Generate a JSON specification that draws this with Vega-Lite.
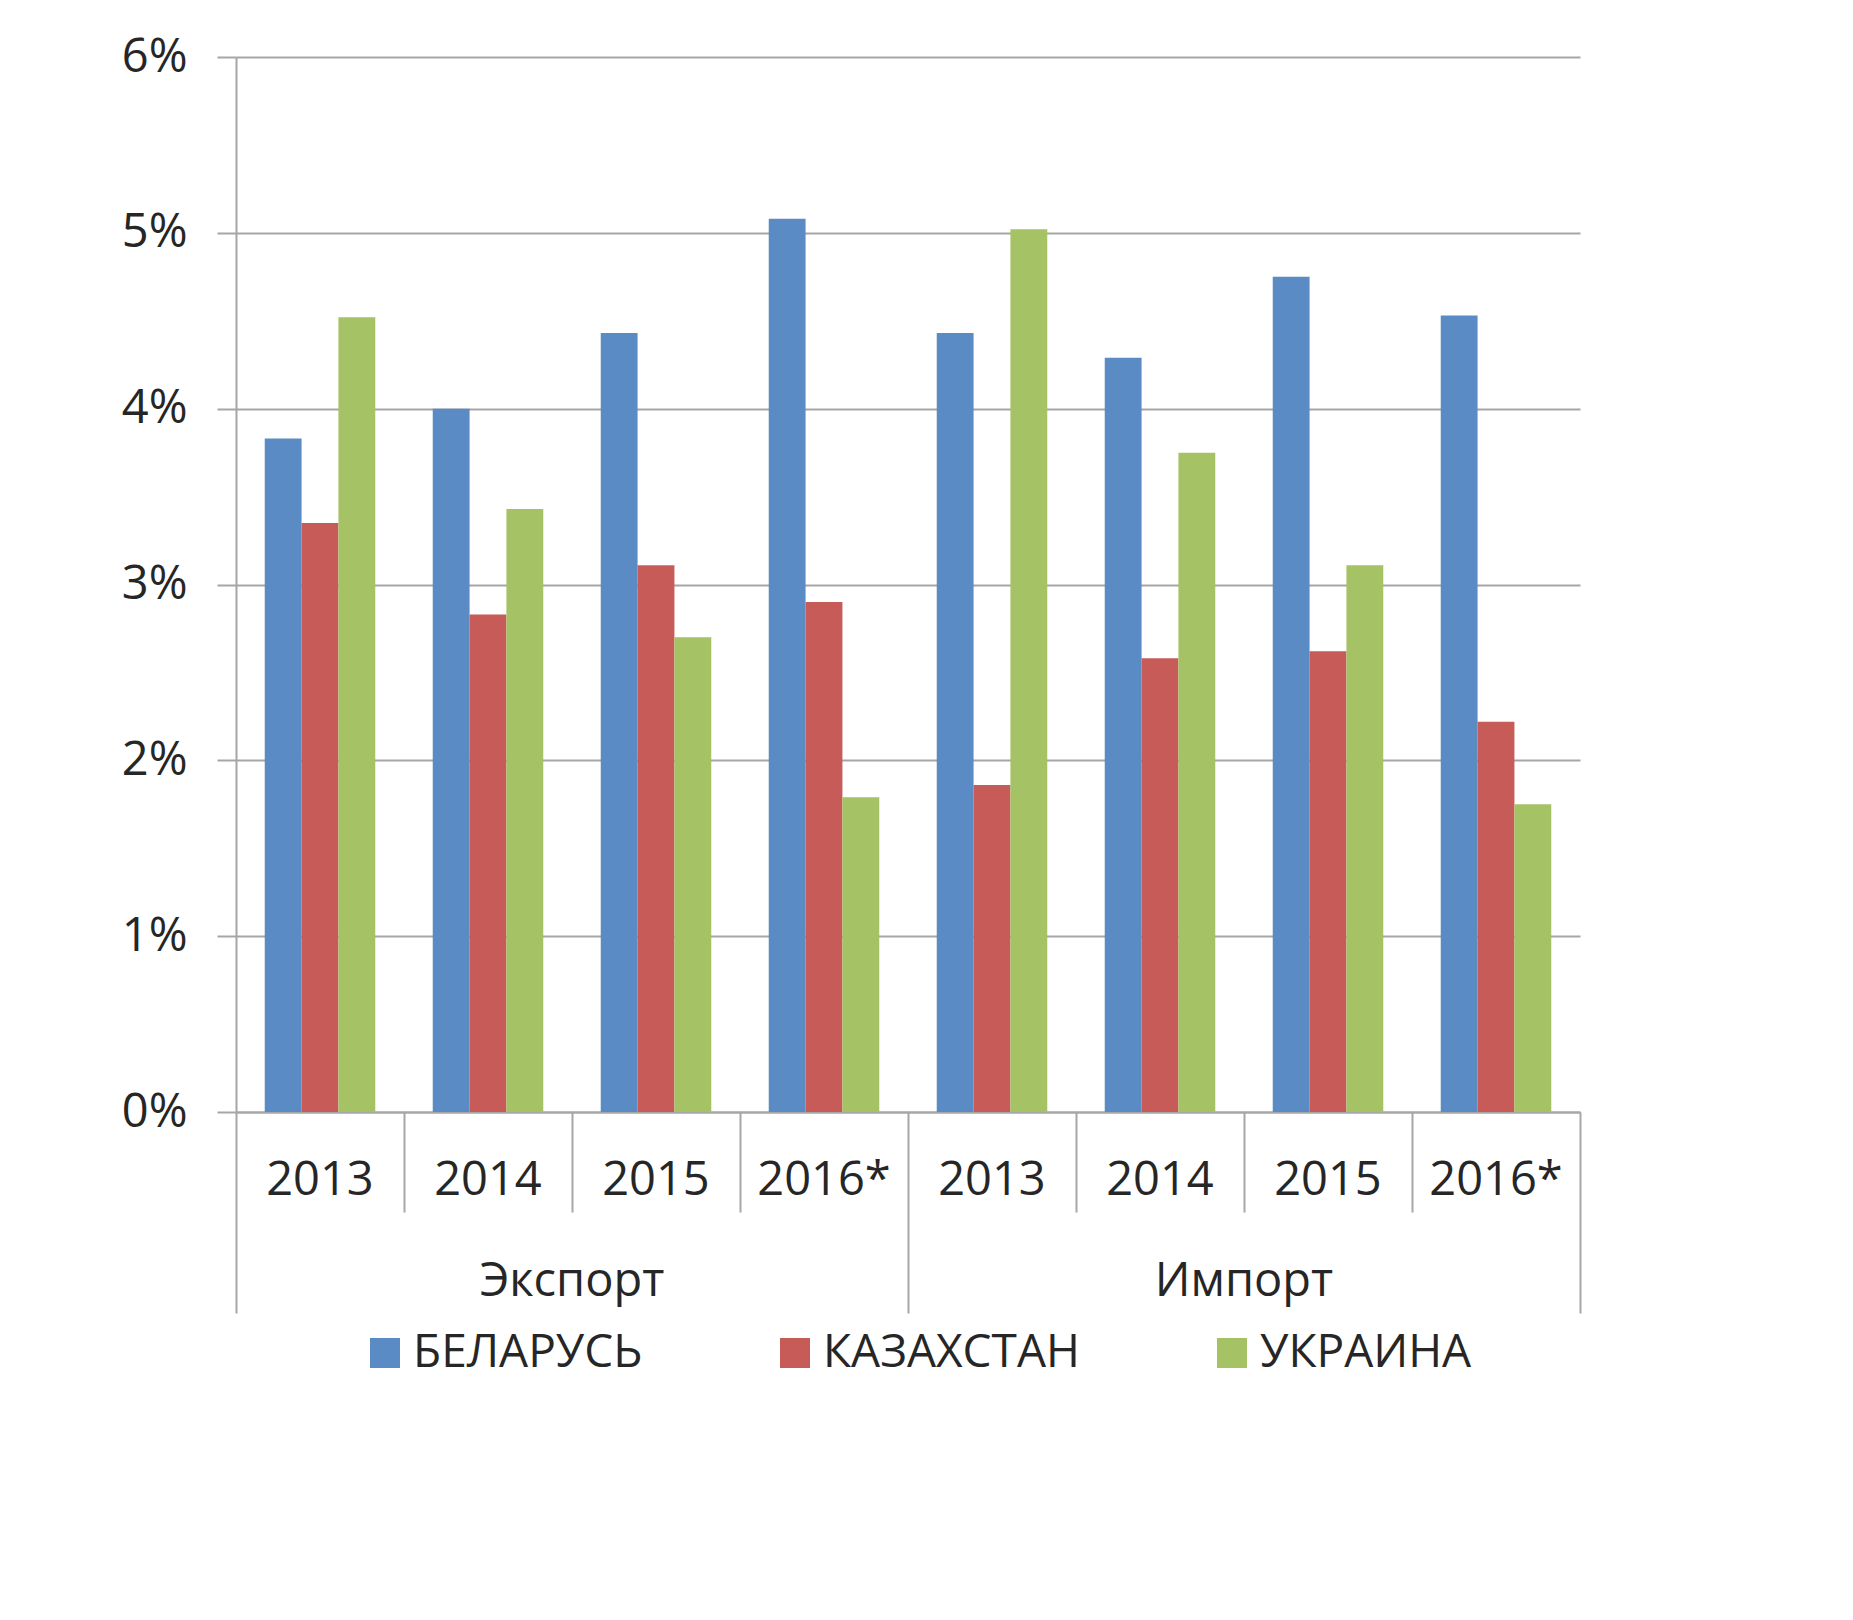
{
  "$schema": "https://vega.github.io/schema/vega-lite/v6.json",
  "width": 1344,
  "height": 1055,
  "autosize": {"type": "none"},
  "padding": {"left": 236, "top": 57, "right": 273, "bottom": 508},
  "background": "white",
  "config": {
    "view": {"stroke": null},
    "font": "Open Sans",
    "axis": {
      "labelFont": "Open Sans",
      "labelFontSize": 47,
      "labelColor": "#262626",
      "labelLimit": 0,
      "domainColor": "#a6a6a6",
      "domainWidth": 2,
      "tickColor": "#a6a6a6",
      "tickWidth": 2,
      "gridColor": "#a6a6a6",
      "gridWidth": 2
    },
    "legend": {"labelLimit": 0}
  },
  "data": {
    "values": [
      {"cat": "Экспорт|2013", "flow": "Экспорт", "year": "2013", "country": "БЕЛАРУСЬ", "value": 3.83},
      {"cat": "Экспорт|2013", "flow": "Экспорт", "year": "2013", "country": "КАЗАХСТАН", "value": 3.35},
      {"cat": "Экспорт|2013", "flow": "Экспорт", "year": "2013", "country": "УКРАИНА", "value": 4.52},
      {"cat": "Экспорт|2014", "flow": "Экспорт", "year": "2014", "country": "БЕЛАРУСЬ", "value": 4.0},
      {"cat": "Экспорт|2014", "flow": "Экспорт", "year": "2014", "country": "КАЗАХСТАН", "value": 2.83},
      {"cat": "Экспорт|2014", "flow": "Экспорт", "year": "2014", "country": "УКРАИНА", "value": 3.43},
      {"cat": "Экспорт|2015", "flow": "Экспорт", "year": "2015", "country": "БЕЛАРУСЬ", "value": 4.43},
      {"cat": "Экспорт|2015", "flow": "Экспорт", "year": "2015", "country": "КАЗАХСТАН", "value": 3.11},
      {"cat": "Экспорт|2015", "flow": "Экспорт", "year": "2015", "country": "УКРАИНА", "value": 2.7},
      {"cat": "Экспорт|2016*", "flow": "Экспорт", "year": "2016*", "country": "БЕЛАРУСЬ", "value": 5.08},
      {"cat": "Экспорт|2016*", "flow": "Экспорт", "year": "2016*", "country": "КАЗАХСТАН", "value": 2.9},
      {"cat": "Экспорт|2016*", "flow": "Экспорт", "year": "2016*", "country": "УКРАИНА", "value": 1.79},
      {"cat": "Импорт|2013", "flow": "Импорт", "year": "2013", "country": "БЕЛАРУСЬ", "value": 4.43},
      {"cat": "Импорт|2013", "flow": "Импорт", "year": "2013", "country": "КАЗАХСТАН", "value": 1.86},
      {"cat": "Импорт|2013", "flow": "Импорт", "year": "2013", "country": "УКРАИНА", "value": 5.02},
      {"cat": "Импорт|2014", "flow": "Импорт", "year": "2014", "country": "БЕЛАРУСЬ", "value": 4.29},
      {"cat": "Импорт|2014", "flow": "Импорт", "year": "2014", "country": "КАЗАХСТАН", "value": 2.58},
      {"cat": "Импорт|2014", "flow": "Импорт", "year": "2014", "country": "УКРАИНА", "value": 3.75},
      {"cat": "Импорт|2015", "flow": "Импорт", "year": "2015", "country": "БЕЛАРУСЬ", "value": 4.75},
      {"cat": "Импорт|2015", "flow": "Импорт", "year": "2015", "country": "КАЗАХСТАН", "value": 2.62},
      {"cat": "Импорт|2015", "flow": "Импорт", "year": "2015", "country": "УКРАИНА", "value": 3.11},
      {"cat": "Импорт|2016*", "flow": "Импорт", "year": "2016*", "country": "БЕЛАРУСЬ", "value": 4.53},
      {"cat": "Импорт|2016*", "flow": "Импорт", "year": "2016*", "country": "КАЗАХСТАН", "value": 2.22},
      {"cat": "Импорт|2016*", "flow": "Импорт", "year": "2016*", "country": "УКРАИНА", "value": 1.75}
    ]
  },
  "layer": [
    {
      "mark": {"type": "bar"},
      "encoding": {
        "x": {
          "field": "cat",
          "type": "nominal",
          "sort": null,
          "scale": {"paddingInner": 0, "paddingOuter": 0},
          "axis": {
            "orient": "bottom",
            "title": null,
            "labels": false,
            "grid": false,
            "tickBand": "extent",
            "tickSize": {"condition": {"test": "datum.extra || indexof(datum.value, '2016') >= 0", "value": 201}, "value": 100}
          }
        },
        "xOffset": {
          "field": "country",
          "type": "nominal",
          "sort": null,
          "scale": {"paddingInner": 0, "paddingOuter": 0.78}
        },
        "y": {
          "field": "value",
          "type": "quantitative",
          "scale": {"domain": [0, 6], "nice": false},
          "axis": {
            "title": null,
            "values": [0, 1, 2, 3, 4, 5, 6],
            "labelExpr": "datum.value + '%'",
            "grid": true,
            "tickSize": 19,
            "labelPadding": 30
          }
        },
        "color": {
          "field": "country",
          "type": "nominal",
          "sort": null,
          "scale": {
            "domain": ["БЕЛАРУСЬ", "КАЗАХСТАН", "УКРАИНА"],
            "range": ["#5B8BC5", "#C75B58", "#A5C264"]
          },
          "legend": {
            "orient": "none",
            "legendX": 126,
            "legendY": 1273,
            "direction": "horizontal",
            "title": null,
            "symbolType": "square",
            "symbolSize": 900,
            "symbolStrokeWidth": 0,
            "symbolOpacity": 1,
            "labelFont": "Open Sans",
            "labelFontSize": 46,
            "labelColor": "#262626",
            "labelLimit": 0,
            "labelOffset": 5,
            "columnPadding": 129,
            "padding": 0
          }
        }
      }
    },
    {
      "mark": {"type": "point", "opacity": 0},
      "encoding": {
        "x": {
          "field": "cat",
          "type": "nominal",
          "sort": null,
          "axis": {
            "orient": "bottom",
            "title": null,
            "ticks": false,
            "tickSize": 0,
            "domain": false,
            "grid": false,
            "labelAngle": 0,
            "labelBaseline": "middle",
            "labelPadding": 68,
            "labelLimit": 0,
            "labelExpr": "split(datum.value, '|')[1]"
          }
        }
      }
    },
    {
      "mark": {"type": "point", "opacity": 0},
      "encoding": {
        "x": {
          "field": "cat",
          "type": "nominal",
          "sort": null,
          "axis": {
            "orient": "bottom",
            "title": null,
            "values": ["Экспорт|2014", "Импорт|2014"],
            "ticks": false,
            "tickSize": 0,
            "domain": false,
            "grid": false,
            "labelAngle": 0,
            "labelBaseline": "middle",
            "labelPadding": 169,
            "labelOffset": 84,
            "labelLimit": 0,
            "labelExpr": "split(datum.value, '|')[0]"
          }
        }
      }
    }
  ],
  "resolve": {"axis": {"x": "independent"}}
}
